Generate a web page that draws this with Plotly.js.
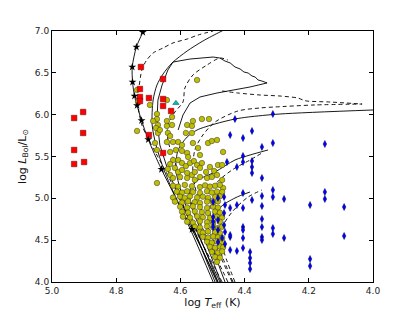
<!DOCTYPE html>
<html><head><meta charset="utf-8">
<script src="https://cdn.plot.ly/plotly-3.0.1.min.js"></script>
<style>html,body{margin:0;padding:0;background:#fff}#chart{width:415px;height:313px}</style>
</head><body><div id="chart"></div><script>
// ---- data (log Teff, log L) ----
const xTicks = [5.0, 4.8, 4.6, 4.4, 4.2, 4.0];
const yTicks = [4.0, 4.5, 5.0, 5.5, 6.0, 6.5, 7.0];

// solid evolutionary tracks
const trkAX = [4.498,4.561,4.611,4.651,4.676,4.688,4.685,4.673,4.654,4.626,4.579,4.530,4.477,4.458];
const trkAY = [4.0,4.562,4.980,5.339,5.637,5.877,6.175,6.355,6.486,6.618,6.761,6.880,6.988,7.024];
const trkBX = [4.492,4.551,4.601,4.639,4.664,4.673,4.670,4.657,4.639,4.623,4.570,4.498,4.477,4.461,4.445,4.430,4.414,4.402,4.389,4.377,4.367,4.358,4.346,4.330,4.383,4.436,4.486,4.539,4.570,4.592,4.607];
const trkBY = [4.0,4.562,4.980,5.339,5.637,5.936,6.175,6.355,6.534,6.629,6.665,6.689,6.677,6.641,6.618,6.570,6.546,6.510,6.498,6.462,6.450,6.414,6.402,6.379,6.331,6.295,6.259,6.211,6.139,5.996,5.817];
const trkCX = [4.483,4.542,4.589,4.614,4.607,4.579,4.548,4.492,4.430,4.389,4.290,4.000];
const trkCY = [4.0,4.562,4.980,5.339,5.578,5.733,5.817,5.889,5.948,5.972,6.008,6.056];
const trkDX = [4.474,4.530,4.567,4.570,4.545,4.492,4.430,4.383,4.327];
const trkDY = [4.0,4.562,4.920,5.100,5.219,5.315,5.458,5.518,5.578];
const trkEX = [4.461,4.495,4.498,4.477,4.430,4.383];
const trkEY = [4.0,4.383,4.622,4.885,5.004,5.076];
const trkFX = [4.486,4.545,4.586,4.607];
const trkFY = [4.0,4.502,4.861,5.100];
const trkGX = [4.477,4.530,4.564];
const trkGY = [4.0,4.443,4.741];

// dashed evolutionary tracks
const dshAX = [4.470,4.555,4.648,4.695,4.720,4.732,4.729,4.720,4.707,4.685,4.654,4.623,4.579,4.545,4.498];
const dshAY = [4.0,4.634,5.339,5.673,5.877,6.116,6.319,6.534,6.641,6.737,6.797,6.857,6.904,6.952,7.0];
const dshBX = [4.452,4.514,4.570,4.614,4.639,4.639,4.617,4.592,4.586,4.561,4.517,4.477,4.452];
const dshBY = [4.0,4.502,4.980,5.398,5.697,5.877,6.032,6.151,6.319,6.474,6.594,6.677,6.653];
const dshCX = [4.439,4.498,4.539,4.561,4.555,4.530,4.492,4.421,4.352,4.305,4.181,4.034];
const dshCY = [4.0,4.502,4.920,5.279,5.578,5.757,5.912,6.044,6.080,6.092,6.116,6.127];
const dshDX = [4.470,4.421,4.352,4.290,4.234,4.218,4.206,4.134,4.034];
const dshDY = [6.283,6.259,6.235,6.223,6.199,6.175,6.163,6.151,6.127];
const dshEX = [4.430,4.470,4.470,4.439,4.389,4.346];
const dshEY = [4.0,4.443,4.645,4.837,5.016,5.100];
const dshFX = [4.436,4.489,4.508,4.492,4.439,4.383,4.346];
const dshFY = [4.0,4.502,4.861,5.159,5.339,5.458,5.542];

// ZAMS line and its star marks
const zamsX = [4.713,4.717,4.737,4.750,4.749,4.743,4.735,4.721,4.700,4.659,4.564,4.483];
const zamsY = [7.02,6.985,6.809,6.570,6.390,6.223,6.110,5.930,5.703,5.347,4.630,4.0];
const starX = [4.717,4.737,4.750,4.749,4.743,4.735,4.721,4.700,4.659,4.564];
const starY = [6.985,6.809,6.570,6.390,6.223,6.110,5.930,5.703,5.347,4.630];

// yellow circles
const yelX = [4.548,4.735,4.732,4.695,4.642,4.673,4.626,4.673,4.685,4.670,4.642,4.642,4.626,4.579,4.564,4.561,4.533,4.511,4.735,4.676,4.670,4.664,4.639,4.632,4.583,4.564,4.623,4.607,4.595,4.679,4.642,4.561,4.545,4.514,4.502,4.486,4.467,4.673,4.632,4.614,4.595,4.579,4.576,4.623,4.607,4.632,4.595,4.583,4.570,4.558,4.548,4.533,4.539,4.520,4.508,4.495,4.483,4.470,4.639,4.617,4.607,4.595,4.579,4.564,4.555,4.632,4.623,4.601,4.579,4.555,4.539,4.517,4.502,4.486,4.673,4.539,4.470,4.467,4.470,
  4.623,4.607,4.586,4.564,4.539,4.523,4.508,4.492,4.477,
  4.611,4.595,4.579,4.561,4.539,4.517,4.502,4.486,
  4.623,4.601,4.586,4.570,4.548,4.530,4.514,4.492,4.477,
  4.617,4.595,4.576,4.555,4.539,4.517,4.498,4.483,
  4.601,4.579,4.561,4.539,4.517,4.498,4.483,
  4.595,4.576,4.555,4.533,4.514,4.492,4.477,
  4.592,4.570,4.548,4.530,4.508,4.486,4.470,
  4.579,4.561,4.539,4.517,4.498,4.477,
  4.555,4.539,4.517,4.498,4.483,4.470,
  4.539,4.530,4.514,4.492,4.477,
  4.530,4.514,4.498,4.483,4.470,
  4.517,4.502,4.486,4.470,
  4.508,4.492,4.477,4.467,
  4.502,4.483,4.470,
  4.492,4.477,
  4.486];
const yelY = [6.414,6.295,6.151,6.116,6.175,6.008,5.972,5.948,5.924,5.877,5.924,5.865,5.877,5.877,5.865,5.924,5.948,5.948,5.805,5.841,5.781,5.817,5.781,5.745,5.781,5.781,5.673,5.673,5.637,5.661,5.673,5.661,5.602,5.661,5.685,5.697,5.554,5.578,5.554,5.578,5.566,5.542,5.494,5.458,5.458,5.410,5.422,5.386,5.422,5.446,5.398,5.422,5.363,5.315,5.375,5.327,5.398,5.398,5.351,5.363,5.315,5.339,5.303,5.279,5.315,5.279,5.243,5.255,5.243,5.219,5.255,5.243,5.255,5.279,5.183,5.518,5.219,5.124,5.076,
  5.150,5.140,5.160,5.145,5.135,5.155,5.140,5.150,5.160,
  5.080,5.070,5.085,5.075,5.065,5.085,5.070,5.080,
  5.010,5.020,5.005,5.025,5.010,5.020,5.005,5.015,5.025,
  4.960,4.950,4.965,4.955,4.945,4.960,4.950,4.965,
  4.900,4.890,4.905,4.895,4.885,4.900,4.890,
  4.840,4.830,4.845,4.835,4.825,4.840,4.830,
  4.780,4.770,4.785,4.775,4.765,4.780,4.770,
  4.720,4.710,4.725,4.715,4.705,4.720,
  4.660,4.650,4.665,4.655,4.645,4.660,
  4.600,4.590,4.605,4.595,4.585,
  4.540,4.530,4.545,4.535,4.525,
  4.480,4.470,4.485,4.475,
  4.420,4.410,4.425,4.415,
  4.360,4.350,4.365,
  4.300,4.290,
  4.240];

// blue diamonds
const bluX = [4.430,4.312,4.445,4.405,4.377,4.346,4.312,4.150,4.455,4.424,4.405,4.405,4.377,4.377,4.377,4.346,4.405,4.377,4.346,4.346,4.312,4.312,4.277,4.196,4.150,4.150,4.090,4.498,4.483,4.464,4.461,4.445,4.424,4.405,4.498,4.498,4.483,4.498,4.483,4.464,4.461,4.470,4.483,4.461,4.445,4.424,4.405,4.383,4.383,4.383,4.383,4.445,4.464,4.346,4.346,4.346,4.346,4.312,4.312,4.277,4.405,4.405,4.405,4.196,4.196,4.090,4.445];
const bluY = [5.948,6.008,5.757,5.721,5.805,5.614,5.661,5.649,5.434,5.375,5.506,5.434,5.446,5.375,5.303,5.243,5.064,4.980,5.028,4.908,5.100,5.016,4.992,4.920,5.076,4.992,4.896,4.956,5.004,5.016,4.920,4.885,4.920,4.885,4.777,4.717,4.741,4.657,4.622,4.681,4.598,4.526,4.478,4.454,4.383,4.371,4.407,4.359,4.287,4.227,4.155,4.538,4.825,4.753,4.657,4.538,4.502,4.645,4.574,4.526,4.657,4.622,4.526,4.275,4.191,4.550,4.562];

// red squares
const redX = [4.931,4.903,4.903,4.931,4.900,4.931,4.723,4.654,4.726,4.726,4.726,4.698,4.654,4.654,4.629,4.698,4.654];
const redY = [5.960,6.032,5.781,5.578,5.434,5.410,6.570,6.426,6.307,6.211,6.163,6.199,6.187,6.104,6.044,5.757,5.542];

// cyan triangle
const cyaX = [4.614];
const cyaY = [6.139];

// ---- drawing ----
const traces = [];
const solid = [[trkAX,trkAY,'spline'],[trkBX,trkBY,'linear'],[trkCX,trkCY,'spline'],[trkDX,trkDY,'spline'],[trkEX,trkEY,'spline'],[trkFX,trkFY,'spline'],[trkGX,trkGY,'spline']];
solid.forEach(([x,y,s]) => traces.push({x, y, type:'scatter', mode:'lines', hoverinfo:'skip',
  line:{color:'#000', width:0.9, shape:s, smoothing:0.8}}));
const dashed = [[dshAX,dshAY],[dshBX,dshBY],[dshCX,dshCY],[dshDX,dshDY],[dshEX,dshEY],[dshFX,dshFY]];
dashed.forEach(([x,y]) => traces.push({x, y, type:'scatter', mode:'lines', hoverinfo:'skip',
  line:{color:'#000', width:0.9, dash:'4px,3px', shape:'spline', smoothing:0.8}}));
traces.push({x:zamsX, y:zamsY, type:'scatter', mode:'lines', line:{color:'#000', width:0.9, shape:'spline', smoothing:0.8}});

traces.push({x:yelX, y:yelY, type:'scatter', mode:'markers',
  marker:{symbol:'circle', size:5.5, color:'#bfbf00', line:{color:'#333', width:0.5}}});
traces.push({x:bluX, y:bluY, type:'scatter', mode:'markers',
  marker:{symbol:'diamond-tall', size:5, color:'#0000ff', line:{color:'#000060', width:0.5}}});
traces.push({x:redX, y:redY, type:'scatter', mode:'markers',
  marker:{symbol:'square', size:5.5, color:'#ff0000', line:{color:'#600', width:0.5}}});
traces.push({x:cyaX, y:cyaY, type:'scatter', mode:'markers',
  marker:{symbol:'triangle-up', size:5.5, color:'#00bfbf', line:{color:'#044', width:0.5}}});
traces.push({x:starX, y:starY, type:'scatter', mode:'markers',
  marker:{symbol:'star', size:6, color:'#000', line:{width:0}}});

const font = {family:'DejaVu Sans, sans-serif', size:9, color:'#222'};
const axisCommon = {showgrid:false, zeroline:false, showline:true, linecolor:'#000', linewidth:1,
  mirror:'ticks', ticks:'inside', ticklen:4, tickwidth:1, tickcolor:'#000', tickfont:font};
const layout = {
  width:415, height:313, margin:{l:52, r:42, t:31, b:31},
  paper_bgcolor:'#fff', plot_bgcolor:'#fff', showlegend:false,
  font:font,
  xaxis:Object.assign({}, axisCommon, {range:[5.0,4.0], tickvals:xTicks, ticktext:xTicks.map(v=>v.toFixed(1)),
    title:{text:'log <i>T</i><sub>eff</sub> (K)', font:{family:'DejaVu Sans, sans-serif', size:11, color:'#111'}, standoff:2}}),
  yaxis:Object.assign({}, axisCommon, {range:[4.0,7.0], tickvals:yTicks, ticktext:yTicks.map(v=>v.toFixed(1)),
    title:{text:'log <i>L</i><sub>Bol</sub>/L<sub>⊙</sub>', font:{family:'DejaVu Sans, sans-serif', size:11, color:'#111'}, standoff:6}})
};
Plotly.newPlot('chart', traces, layout, {displayModeBar:false, staticPlot:true});
</script></body></html>
